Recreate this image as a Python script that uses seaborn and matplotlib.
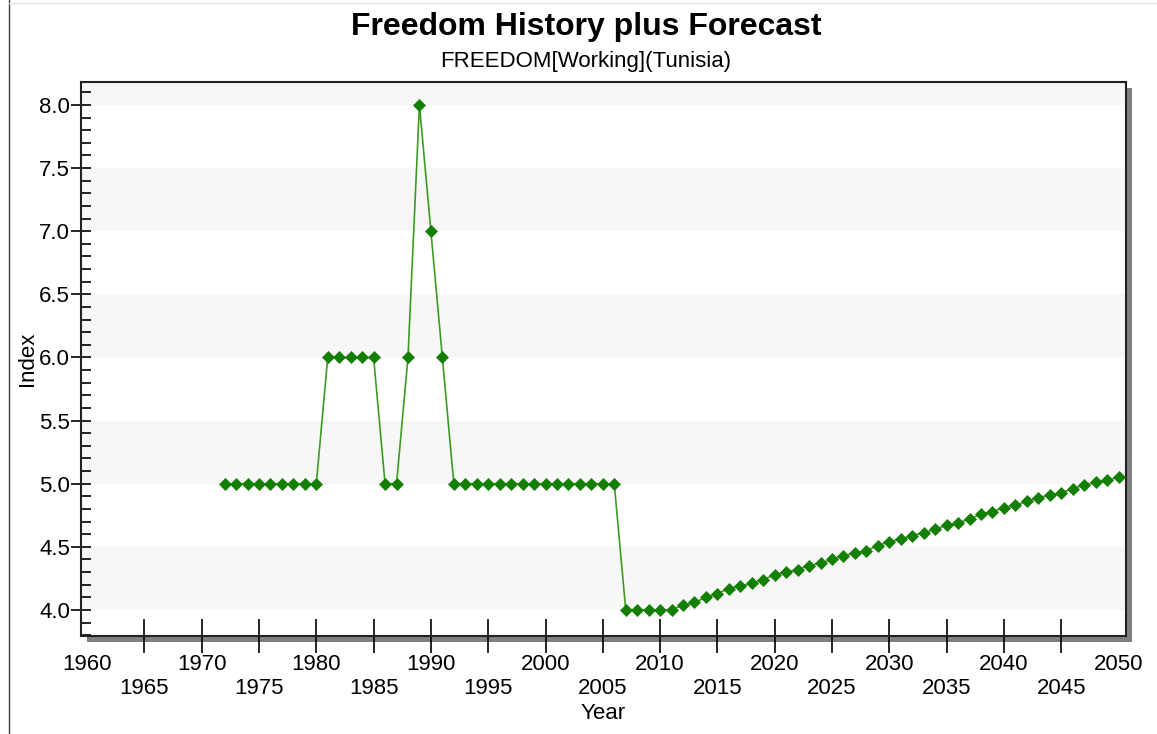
import matplotlib
matplotlib.use("Agg")
import matplotlib.pyplot as plt
from matplotlib.patches import Rectangle
from matplotlib.lines import Line2D
from matplotlib.ticker import MultipleLocator
import seaborn as sns
import pandas as pd

# ---- data ----
hist_years = list(range(1972, 2012))
hist_values = [5, 5, 5, 5, 5, 5, 5, 5, 5,          # 1972-1980
               6, 6, 6, 6, 6,                      # 1981-1985
               5, 5, 6, 8, 7, 6,                   # 1986-1991
               5, 5, 5, 5, 5, 5, 5, 5, 5, 5, 5, 5, 5, 5, 5,  # 1992-2006
               4, 4, 4, 4, 4]                      # 2007-2011
fc_years = list(range(2012, 2051))
fc_values = [4.04, 4.06, 4.10, 4.13, 4.17, 4.19, 4.21, 4.24, 4.28, 4.30,
             4.32, 4.35, 4.37, 4.40, 4.43, 4.45, 4.47, 4.51, 4.54, 4.56,
             4.59, 4.61, 4.64, 4.67, 4.69, 4.72, 4.76, 4.78, 4.81, 4.83,
             4.86, 4.89, 4.91, 4.93, 4.96, 4.99, 5.01, 5.03, 5.05]
years = hist_years + fc_years
values = hist_values + fc_values

xtick_years = list(range(1960, 2051, 5))
ytick_vals = [4.0, 4.5, 5.0, 5.5, 6.0, 6.5, 7.0, 7.5, 8.0]
bands = [(4.0, 4.5), (5.0, 5.5), (6.0, 6.5), (7.0, 7.5), (8.0, 9.0)]

title = "Freedom History plus Forecast"
subtitle = "FREEDOM[Working](Tunisia)"

df = pd.DataFrame({"Year": years, "Index": values})

# ---- figure ----
sns.set_style("white")
plt.rcParams["font.family"] = ["Liberation Sans", "DejaVu Sans"]
plt.rcParams["text.color"] = "black"
plt.rcParams["axes.labelcolor"] = "black"
plt.rcParams["xtick.color"] = "black"
plt.rcParams["ytick.color"] = "black"

W, H = 1157, 734
fig = plt.figure(figsize=(W / 100, H / 100), dpi=100)
L, R, T, B = 81, 1126, 82, 636
ax = fig.add_axes([L / W, 1 - B / H, (R - L) / W, (B - T) / H])

# shadow
sh = 6
fig.add_artist(Rectangle(((L + sh) / W, 1 - (B + sh) / H), (R - L) / W, (B - T) / H,
                         transform=fig.transFigure, facecolor="#7f7f7f",
                         edgecolor="none", zorder=-1))
# window border lines
fig.add_artist(Line2D([9 / W, 9 / W], [0, 1], transform=fig.transFigure,
                      color="#404040", lw=1.0))
fig.add_artist(Line2D([9 / W, 1], [1 - 3 / H, 1 - 3 / H], transform=fig.transFigure,
                      color="#e6e6e6", lw=1.0))

ax.set_facecolor("white")
for lo, hi in bands:
    ax.axhspan(lo, hi, color="#f7f7f7", zorder=0, lw=0)

sns.lineplot(data=df, x="Year", y="Index", ax=ax, color="#3c9c22", lw=1.2,
             marker="D", markersize=6.3, markerfacecolor="#137f00",
             markeredgecolor="#137f00", markeredgewidth=0.5, zorder=3)

ax.set_xlim(1959.47, 2050.65)
ax.set_ylim(3.794, 8.182)

ax.set_xticks(xtick_years)
ax.set_xticklabels([str(y) if (y % 10 == 0) else "\n" + str(y) for y in xtick_years],
                   fontsize=16, linespacing=1.2)
ax.set_yticks(ytick_vals)
ax.set_yticklabels([f"{v:.1f}" for v in ytick_vals], fontsize=16)
ax.yaxis.set_minor_locator(MultipleLocator(0.1))

ax.tick_params(axis="x", which="major", direction="inout", length=24, width=1.2,
               color="black", pad=1, bottom=True)
ax.tick_params(axis="y", which="major", direction="inout", length=14, width=1.2,
               color="black", pad=1, left=True)
ax.tick_params(axis="y", which="minor", direction="in", length=7, width=1.2,
               color="black", left=True)
for t in (ax.xaxis.get_major_ticks()[0], ax.xaxis.get_major_ticks()[-1]):
    t.tick1line.set_visible(False)

for s in ax.spines.values():
    s.set_color("#222222")
    s.set_linewidth(1.5)
    s.set_visible(True)

ax.set_xlabel("Year", fontsize=16, labelpad=3)
ax.set_ylabel("Index", fontsize=16, labelpad=1)

fig.text(586 / W, 1 - 27 / H, title, ha="center", va="center", fontsize=23,
         fontweight="bold")
fig.text(586 / W, 1 - 61 / H, subtitle, ha="center", va="center", fontsize=16)

fig.savefig("out.png", dpi=100, facecolor="white")
